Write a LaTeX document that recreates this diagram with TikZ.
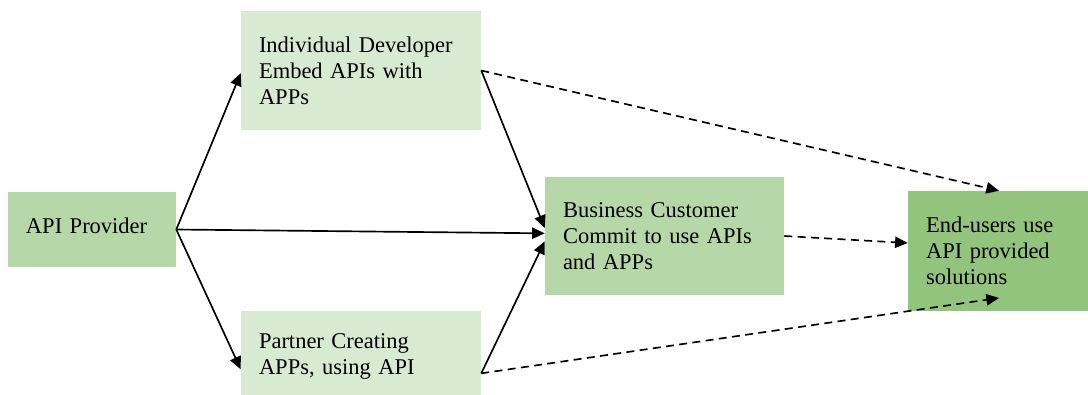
\documentclass[tikz,border=0pt]{standalone}
\usepackage{fontspec}
\setmainfont{Liberation Serif}
\usetikzlibrary{arrows.meta}
\definecolor{lightg}{HTML}{D9EAD3}
\definecolor{midg}{HTML}{B6D7A8}
\definecolor{darkg}{HTML}{93C47D}
\tikzset{
  box/.style={rectangle, inner xsep=13.5pt, inner ysep=0pt, align=left,
    font=\fontsize{16.875pt}{19.5pt}\selectfont},
  solidarrow/.style={line width=1.25pt, -{Triangle[length=9.5pt,width=8.5pt]}},
  dasharrow/.style={line width=1.25pt, dash pattern=on 6pt off 4pt, -{Triangle[length=9.5pt,width=8.5pt]}}
}
\begin{document}
\begin{tikzpicture}[x=0.75pt,y=-0.75pt]
\clip (0,0) rectangle (1088,394);
\fill[white] (0,0) rectangle (1088,394);
\node[box, fill=midg, minimum width=126pt, minimum height=56.25pt, text width=99pt] (api) at (92,229.5) {\raisebox{5pt}{API Provider}};
\node[box, fill=lightg, minimum width=180pt, minimum height=89.25pt, text width=153pt] (indiv) at (361,70.5) {Individual Developer\\Embed APIs with\\APPs};
\node[box, fill=lightg, minimum width=180pt, minimum height=67.5pt, text width=153pt] (partner) at (361,356) {Partner Creating\\APPs, using API};
\node[box, fill=midg, minimum width=179.25pt, minimum height=88.5pt, text width=152.25pt] (biz) at (664.5,236) {Business Customer\\Commit to use APIs\\and APPs};
\node[box, fill=darkg, minimum width=136.5pt, minimum height=90pt, text width=109.5pt] (end) at (999,251) {End-users use\\API provided\\solutions};
\draw[solidarrow] (api.east) -- ([yshift=-2pt]indiv.west);
\draw[solidarrow] (api.east) -- ([yshift=-10pt]partner.west);
\draw[solidarrow] (api.east) -- ([yshift=2pt]biz.west);
\draw[solidarrow] (indiv.east) -- ([yshift=6pt]biz.west);
\draw[solidarrow] ([yshift=-13pt]partner.east) -- ([yshift=-4pt]biz.west);
\draw[dasharrow] (indiv.east) -- (end.north);
\draw[dasharrow] (biz.east) -- ([yshift=6pt]end.west);
\draw[dasharrow] ([yshift=-13pt]partner.east) -- ([yshift=10pt]end.south);
\end{tikzpicture}
\end{document}
